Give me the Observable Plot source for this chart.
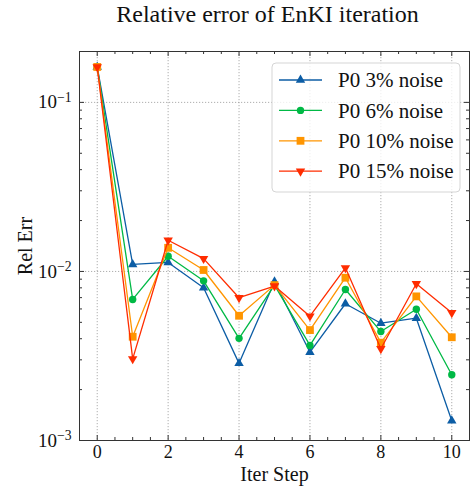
<!DOCTYPE html>
<html><head><meta charset="utf-8">
<script src="https://cdn.jsdelivr.net/npm/d3@7"></script>
<script src="https://cdn.jsdelivr.net/npm/@observablehq/plot@0.6"></script>
<style>body{margin:0;background:#fff}</style>
</head><body><div id="chart"></div>
<script>
const steps = [0, 1, 2, 3, 4, 5, 6, 7, 8, 9, 10];
const p3  = [0.162, 0.0110, 0.0113, 0.0080, 0.00286, 0.0087, 0.00333, 0.00644, 0.00494, 0.00529, 0.00131];
const p6  = [0.162, 0.00683, 0.0123, 0.0088, 0.00402, 0.0083, 0.00365, 0.00782, 0.00441, 0.00598, 0.00245];
const p10 = [0.162, 0.00411, 0.0138, 0.0102, 0.00547, 0.0083, 0.00450, 0.00918, 0.00379, 0.00712, 0.00408];
const p15 = [0.162, 0.00304, 0.0153, 0.0119, 0.00699, 0.0082, 0.00544, 0.0105, 0.00349, 0.00846, 0.00570];
const seriesNames = ["P0 3% noise", "P0 6% noise", "P0 10% noise", "P0 15% noise"];
const seriesColors = ["#0C5DA5", "#00B945", "#FF9500", "#FF2C00"];
const xMajorTicks = [0, 2, 4, 6, 8, 10];
const xMinorTicks = [0.5, 1, 1.5, 2.5, 3, 3.5, 4.5, 5, 5.5, 6.5, 7, 7.5, 8.5, 9, 9.5];
const yMajorTicks = [1e-3, 1e-2, 1e-1];
const yMinorTicks = [2e-3, 3e-3, 4e-3, 5e-3, 6e-3, 7e-3, 8e-3, 9e-3, 2e-2, 3e-2, 4e-2, 5e-2, 6e-2, 7e-2, 8e-2, 9e-2];
const titleText = "Relative error of EnKI iteration";
const xLabel = "Iter Step";
const yLabel = "Rel Err";

const triDown = {draw(context, size) {
  const y = -Math.sqrt(size / (Math.sqrt(3) * 3));
  context.moveTo(0, -y * 2);
  context.lineTo(-Math.sqrt(3) * y, y);
  context.lineTo(Math.sqrt(3) * y, y);
  context.closePath();
}};
const symbols = ["triangle", "circle", "square", triDown];
const d3Symbols = [d3.symbolTriangle, d3.symbolCircle, d3.symbolSquare, triDown];
const radii = [3.5, 3.7, 4.4, 3.5];
const values = [p3, p6, p10, p15];

const W = 473, H = 490, mL = 79, mR = 4, mT = 51, mB = 50;
const fw = W - mL - mR, fh = H - mT - mB;
const ink = "#333";

const seriesMarks = [];
values.forEach((vals, i) => {
  const data = steps.map((s, j) => ({step: s, err: vals[j]}));
  seriesMarks.push(Plot.line(data, {x: "step", y: "err", stroke: seriesColors[i], strokeWidth: 1.3}));
  seriesMarks.push(Plot.dot(data, {x: "step", y: "err", fill: seriesColors[i], stroke: "none", r: radii[i], symbol: symbols[i]}));
});

const chart = Plot.plot({
  width: W, height: H,
  marginLeft: mL, marginRight: mR, marginTop: mT, marginBottom: mB,
  style: {fontFamily: "Liberation Serif", fontSize: "18px", background: "white", color: "#111"},
  x: {domain: [-0.5, 10.5]},
  y: {type: "log", domain: [1e-3, 0.2]},
  marks: [
    Plot.gridX(xMajorTicks, {stroke: "#999", strokeOpacity: 1, strokeWidth: 0.8, strokeDasharray: "1.2,1.8"}),
    Plot.gridY(yMajorTicks, {stroke: "#999", strokeOpacity: 1, strokeWidth: 0.8, strokeDasharray: "1.2,1.8"}),
    ...seriesMarks,
    // inward ticks on all four sides
    Plot.tickX(xMajorTicks, {x: d => d, insetTop: fh - 5, stroke: ink}),
    Plot.tickX(xMajorTicks, {x: d => d, insetBottom: fh - 5, stroke: ink}),
    Plot.tickX(xMinorTicks, {x: d => d, insetTop: fh - 3, stroke: ink}),
    Plot.tickX(xMinorTicks, {x: d => d, insetBottom: fh - 3, stroke: ink}),
    Plot.tickY(yMajorTicks, {y: d => d, insetRight: fw - 5, stroke: ink}),
    Plot.tickY(yMajorTicks, {y: d => d, insetLeft: fw - 5, stroke: ink}),
    Plot.tickY(yMinorTicks, {y: d => d, insetRight: fw - 3, stroke: ink}),
    Plot.tickY(yMinorTicks, {y: d => d, insetLeft: fw - 3, stroke: ink}),
    Plot.axisX({ticks: xMajorTicks, tickSize: 0, tickPadding: 5, label: null, fontSize: 18}),
    Plot.axisY({ticks: yMajorTicks, tickSize: 0, tickPadding: 8, label: null, fontSize: 19,
      tickFormat: d => "10^" + Math.round(Math.log10(d))}),
    Plot.frame({stroke: ink, strokeWidth: 1}),
    Plot.text([titleText], {frameAnchor: "top", lineAnchor: "middle", textAnchor: "middle", dx: -7, dy: -37, fontSize: 24, text: d => d}),
    Plot.text([xLabel], {frameAnchor: "bottom", lineAnchor: "middle", textAnchor: "middle", dy: 34, fontSize: 20, text: d => d}),
    Plot.text([yLabel], {frameAnchor: "left", lineAnchor: "middle", textAnchor: "middle", dx: -54, rotate: -90, fontSize: 20, text: d => d})
  ]
});

const svg = d3.select(chart);
svg.selectAll('g[aria-label="y-axis tick label"] text').each(function() {
  const t = d3.select(this);
  const parts = t.text().split("^");
  t.text(null);
  t.append("tspan").text(parts[0]);
  t.append("tspan").attr("dy", "-0.5em").attr("font-size", "0.72em").text(parts[1].replace("-", "\u2212"));
});

// legend inside the frame, upper right
const lg = svg.append("g").attr("font-family", "Liberation Serif").attr("font-size", 21).attr("text-anchor", "start");
const lx = 272, ly = 63, lw = 188, lh = 129, row = 30.4;
lg.append("rect").attr("x", lx).attr("y", ly).attr("width", lw).attr("height", lh)
  .attr("rx", 4).attr("fill", "white").attr("fill-opacity", 0.8).attr("stroke", "#d5d5d5");
seriesNames.forEach((name, i) => {
  const cy = ly + 17 + i * row;
  lg.append("line").attr("x1", lx + 7).attr("x2", lx + 50).attr("y1", cy).attr("y2", cy)
    .attr("stroke", seriesColors[i]).attr("stroke-width", 1.3);
  lg.append("path").attr("transform", `translate(${lx + 28.5},${cy})`)
    .attr("d", d3.symbol().type(d3Symbols[i]).size(Math.PI * radii[i] * radii[i])())
    .attr("fill", seriesColors[i]);
  lg.append("text").attr("x", lx + 66).attr("y", cy).attr("dy", "0.34em").attr("text-anchor", "start").attr("fill", "#111").text(name);
});

document.getElementById("chart").appendChild(chart);
</script>
</body></html>
